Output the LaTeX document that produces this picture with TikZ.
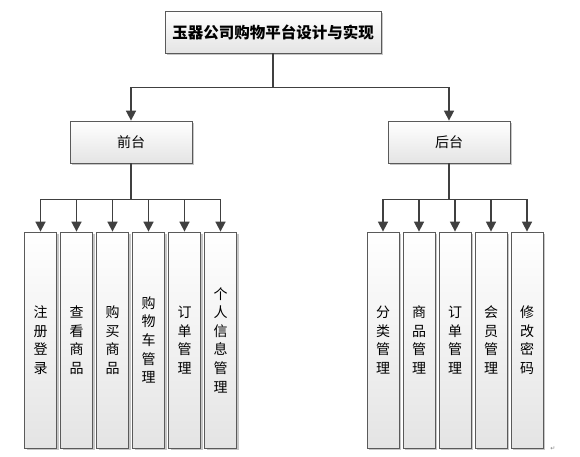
\documentclass[tikz,border=0pt]{standalone}
\usepackage{fontspec}
\newfontfamily\cjk{Noto Sans CJK SC}
\newfontfamily\symb{DejaVu Sans}
\usepackage{tikz}
\usetikzlibrary{arrows.meta}
\usetikzlibrary{shadows}
\definecolor{linegray}{HTML}{404040}
\definecolor{boxline}{HTML}{5A5A5A}
\definecolor{boxbottom}{HTML}{E4E4E4}
\tikzstyle{box}=[draw=boxline, line width=0.8pt, top color=white, bottom color=boxbottom, inner sep=0pt, drop shadow={shadow xshift=2pt, shadow yshift=-2pt, fill=black!22, opacity=1}]
\tikzstyle{root}=[box, minimum width=216pt, minimum height=42pt, font=\cjk\bfseries\fontsize{15.5}{18}\selectfont]
\tikzstyle{part}=[box, minimum width=122pt, minimum height=42pt, font=\cjk\fontsize{14}{18}\selectfont]
\tikzstyle{leaf}=[box, minimum width=32pt, minimum height=216pt, align=center, font=\cjk\fontsize{14}{18.6}\selectfont]
\tikzstyle{edge}=[draw=linegray, line width=1.6pt, -{Triangle[width=10pt, length=10pt]}]

\begin{document}
\begin{tikzpicture}[x=1pt, y=-1pt]
	\useasboundingbox (0,0) rectangle (580,456);
	\draw (273,32) node[root] (title) {玉器公司购物平台设计与实现};
	\draw (131,142) node[part] (front) {前台};
	\draw (449,142) node[part] (back) {后台};
	\draw (40.5,340) node[leaf] (f1) {注\\册\\登\\录};
	\draw (76.5,340) node[leaf] (f2) {查\\看\\商\\品};
	\draw (112.5,340) node[leaf] (f3) {购\\买\\商\\品};
	\draw (148.5,340) node[leaf] (f4) {购\\物\\车\\管\\理};
	\draw (184.5,340) node[leaf] (f5) {订\\单\\管\\理};
	\draw (220.5,340) node[leaf] (f6) {个\\人\\信\\息\\管\\理};
	\draw (383,340) node[leaf] (b1) {分\\类\\管\\理};
	\draw (419,340) node[leaf] (b2) {商\\品\\管\\理};
	\draw (455,340) node[leaf] (b3) {订\\单\\管\\理};
	\draw (491,340) node[leaf] (b4) {会\\员\\管\\理};
	\draw (527,340) node[leaf] (b5) {修\\改\\密\\码};
	\draw (553,449) node[font=\symb\fontsize{6}{6}\selectfont, text=gray] (mark) {↵};
	\draw[edge] (title.south) -- ++(0,34) -| (front.north);
	\draw[edge] (title.south) -- ++(0,34) -| (back.north);
	\draw[edge] (front.south) -- ++(0,36) -| (f1.north);
	\draw[edge] (front.south) -- ++(0,36) -| (f2.north);
	\draw[edge] (front.south) -- ++(0,36) -| (f3.north);
	\draw[edge] (front.south) -- ++(0,36) -| (f4.north);
	\draw[edge] (front.south) -- ++(0,36) -| (f5.north);
	\draw[edge] (front.south) -- ++(0,36) -| (f6.north);
	\draw[edge] (back.south) -- ++(0,36) -| (b1.north);
	\draw[edge] (back.south) -- ++(0,36) -| (b2.north);
	\draw[edge] (back.south) -- ++(0,36) -| (b3.north);
	\draw[edge] (back.south) -- ++(0,36) -| (b4.north);
	\draw[edge] (back.south) -- ++(0,36) -| (b5.north);
\end{tikzpicture}
\end{document}
